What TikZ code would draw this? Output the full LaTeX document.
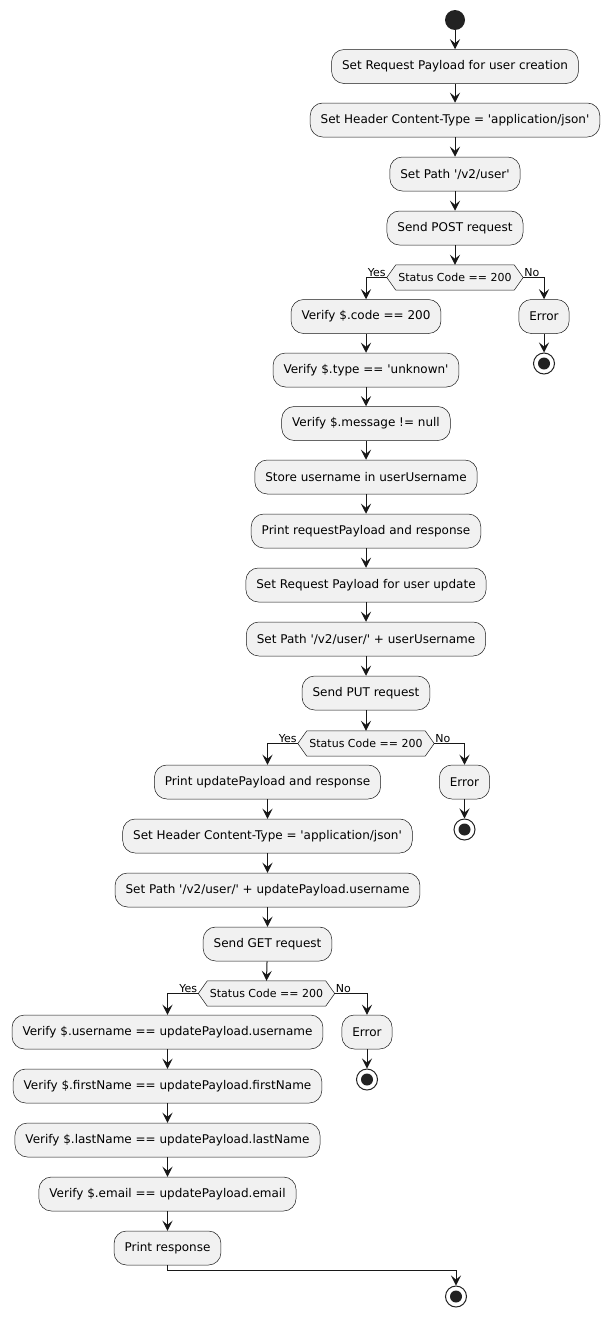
\documentclass[tikz,border=0pt]{standalone}
\usepackage{fontspec}
\setmainfont{DejaVu Sans}[Ligatures=TeXOff]
\usetikzlibrary{arrows.meta,calc}
\definecolor{boxfill}{HTML}{F1F1F1}
\definecolor{ink}{HTML}{181818}
\definecolor{dot}{HTML}{222222}
\begin{document}
\begin{tikzpicture}[x=1pt,y=-1pt,
  act/.style={draw=ink, line width=0.5pt, fill=boxfill, rounded corners=12.5pt,
    minimum height=34pt, inner xsep=10.5pt, inner ysep=0pt, font=\fontsize{12}{14}\selectfont},
  dtext/.style={minimum width=136pt, minimum height=25pt, inner sep=0pt, font=\fontsize{11}{13}\selectfont},
  hex/.style={draw=ink, line width=0.5pt, fill=boxfill},
  lbl/.style={font=\fontsize{11}{13}\selectfont, inner sep=1pt},
  arr/.style={draw=ink, line width=1pt, -{Stealth[length=10pt,width=10pt,inset=4pt]}},
  startc/.style={circle, fill=dot, minimum size=20pt, inner sep=0pt},
  stopc/.style={circle, draw=dot, line width=1pt, fill=white, minimum size=21pt, inner sep=0pt,
    path picture={\fill[dot] (path picture bounding box.center) circle (6pt);}}
]
\useasboundingbox (0,0) rectangle (611,1317);

\newcommand{\hexdraw}[1]{%
  \path[hex] (#1.west) -- ([xshift=9pt]#1.north west) -- ([xshift=-9pt]#1.north east)
   -- (#1.east) -- ([xshift=-9pt]#1.south east) -- ([xshift=9pt]#1.south west) -- cycle;}

% top chain
\node[startc] (st) at (455,20) {};
\node[act] (a1) at (455,66.5) {Set Request Payload for user creation};
\node[act] (a2) at (455,120) {Set Header Content-Type = 'application/json'};
\node[act] (a3) at (455,174) {Set Path '/v2/user'};
\node[act] (a4) at (455,228) {Send POST request};
\node[dtext] (d1) at (455,277.5) {};
\hexdraw{d1}
\node[dtext] at (d1) {Status Code == 200};

\node[act] (e1) at (544,316.5) {Error};
\node[stopc] (s1) at (544,363.5) {};

\node[act] (b1) at (366,316.5) {Verify \$.code == 200};
\node[act] (b2) at (366,370) {Verify \$.type == 'unknown'};
\node[act] (b3) at (366,423.5) {Verify \$.message != null};
\node[act] (b4) at (366,477) {Store username in userUsername};
\node[act] (b5) at (366,531) {Print requestPayload and response};
\node[act] (b6) at (366,585) {Set Request Payload for user update};
\node[act] (b7) at (366,639) {Set Path '/v2/user/' + userUsername};
\node[act] (b8) at (366,693) {Send PUT request};
\node[dtext] (d2) at (366,743.5) {};
\hexdraw{d2}
\node[dtext] at (d2) {Status Code == 200};

\node[act] (e2) at (464.5,782) {Error};
\node[stopc] (s2) at (464.5,829.5) {};

\node[act] (c1) at (267.5,782) {Print updatePayload and response};
\node[act] (c2) at (267.5,836) {Set Header Content-Type = 'application/json'};
\node[act] (c3) at (267.5,890) {Set Path '/v2/user/' + updatePayload.username};
\node[act] (c4) at (267.5,944) {Send GET request};
\node[dtext] (d3) at (266.5,993.5) {};
\hexdraw{d3}
\node[dtext] at (d3) {Status Code == 200};

\node[act] (e3) at (367,1032) {Error};
\node[stopc] (s3) at (367,1079.5) {};

\node[act] (f1) at (167.5,1032) {Verify \$.username == updatePayload.username};
\node[act] (f2) at (167.5,1086) {Verify \$.firstName == updatePayload.firstName};
\node[act] (f3) at (167.5,1140) {Verify \$.lastName == updatePayload.lastName};
\node[act] (f4) at (167.5,1194) {Verify \$.email == updatePayload.email};
\node[act] (f5) at (167.5,1248) {Print response};
\node[stopc] (fin) at (456,1296.5) {};
\coordinate (j) at (456,1270);

% connectors
\draw[arr] (st) -- (a1);
\draw[arr] (a1) -- (a2);
\draw[arr] (a2) -- (a3);
\draw[arr] (a3) -- (a4);
\draw[arr] (a4) -- (d1.north);
\draw[arr] (d1.west) -| (b1.north);
\draw[arr] (d1.east) -| (e1.north);
\node[lbl, anchor=south east] at (d1.west) {Yes};
\node[lbl, anchor=south west] at (d1.east) {No};
\draw[arr] (e1) -- (s1);
\draw[arr] (b1) -- (b2);
\draw[arr] (b2) -- (b3);
\draw[arr] (b3) -- (b4);
\draw[arr] (b4) -- (b5);
\draw[arr] (b5) -- (b6);
\draw[arr] (b6) -- (b7);
\draw[arr] (b7) -- (b8);
\draw[arr] (b8) -- (d2.north);
\draw[arr] (d2.west) -| (c1.north);
\draw[arr] (d2.east) -| (e2.north);
\node[lbl, anchor=south east] at (d2.west) {Yes};
\node[lbl, anchor=south west] at (d2.east) {No};
\draw[arr] (e2) -- (s2);
\draw[arr] (c1) -- (c2);
\draw[arr] (c2) -- (c3);
\draw[arr] (c3) -- (c4);
\draw[arr] (c4) -- (d3.north);
\draw[arr] (d3.west) -| (f1.north);
\draw[arr] (d3.east) -| (e3.north);
\node[lbl, anchor=south east] at (d3.west) {Yes};
\node[lbl, anchor=south west] at (d3.east) {No};
\draw[arr] (e3) -- (s3);
\draw[arr] (f1) -- (f2);
\draw[arr] (f2) -- (f3);
\draw[arr] (f3) -- (f4);
\draw[arr] (f4) -- (f5);
\draw[arr] (f5.south) |- (j) -- (fin.north);
\end{tikzpicture}
\end{document}
